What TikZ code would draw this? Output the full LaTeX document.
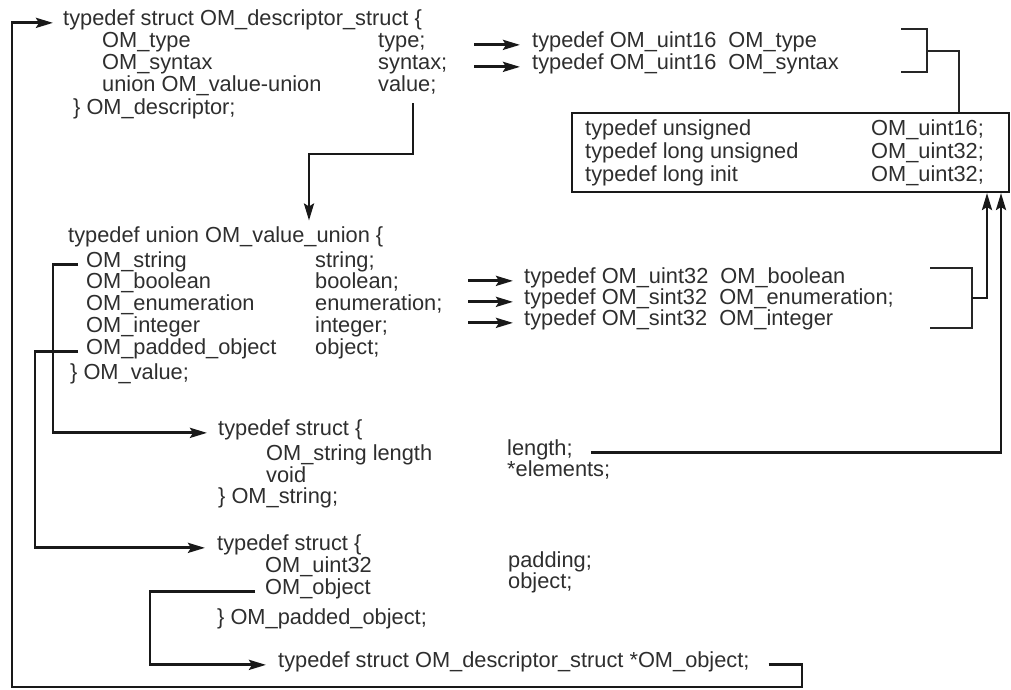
\documentclass[tikz,border=0pt]{standalone}
\usepackage{fontspec}
\setmainfont{Liberation Sans}
\usetikzlibrary{arrows.meta}

\begin{document}
\begin{tikzpicture}[x=1pt,y=-1pt,
  txt/.style={anchor=base west, inner sep=0pt, text=black!82,
              font=\fontsize{21.8}{21.8}\selectfont},
  conn/.style={line width=2.8pt, draw=black!90},
  arr/.style={conn, -{Stealth[length=17pt,width=10pt,inset=3pt]}},
  brk/.style={line width=1.3pt, draw=black!85},
  boxst/.style={draw=black!90, line width=2pt, inner sep=0pt, minimum width=437pt, minimum height=79pt}
]
\useasboundingbox (0,0) rectangle (1011,689);

% --- OM_descriptor_struct ---
\node[txt] (a0) at (63,25.5) {typedef struct OM\_descriptor\_struct \{};
\node[txt] (a1) at (102,47.5) {OM\_type};
\node[txt] (a1r) at (378,47.5) {type;};
\node[txt] (a2) at (102,69.5) {OM\_syntax};
\node[txt] (a2r) at (378,69.5) {syntax;};
\node[txt] (a3) at (102,91.5) {union OM\_value-union};
\node[txt] (a3r) at (378,91.5) {value;};
\node[txt] (a4) at (73,114) {\} OM\_descriptor;};

% --- 16-bit typedefs ---
\node[txt] (t1) at (532,47.5) {typedef OM\_uint16\ \ OM\_type};
\node[txt] (t2) at (532,69.5) {typedef OM\_uint16\ \ OM\_syntax};

% --- base types box ---
\node[boxst] (bx) at (790.5,152.5) {};
\node[txt] (x0) at (585,135.5) {typedef unsigned};
\node[txt] (x0r) at (871,135.5) {OM\_uint16;};
\node[txt] (x1) at (585,158.5) {typedef long unsigned};
\node[txt] (x1r) at (871,158.5) {OM\_uint32;};
\node[txt] (x2) at (585,181.5) {typedef long init};
\node[txt] (x2r) at (871,181.5) {OM\_uint32;};

% --- OM_value_union ---
\node[txt] (b0) at (68,242.5) {typedef union OM\_value\_union \{};
\node[txt] (b1) at (86,267.5) {OM\_string};
\node[txt] (b1r) at (315,267.5) {string;};
\node[txt] (b2) at (86,288.5) {OM\_boolean};
\node[txt] (b2r) at (315,288.5) {boolean;};
\node[txt] (b3) at (86,310.5) {OM\_enumeration};
\node[txt] (b3r) at (315,310.5) {enumeration;};
\node[txt] (b4) at (86,332.5) {OM\_integer};
\node[txt] (b4r) at (315,332.5) {integer;};
\node[txt] (b5) at (86,354.5) {OM\_padded\_object};
\node[txt] (b5r) at (315,354.5) {object;};
\node[txt] (b6) at (70,379.5) {\} OM\_value;};

% --- 32-bit typedefs ---
\node[txt] (r1) at (524,283.5) {typedef OM\_uint32\ \ OM\_boolean};
\node[txt] (r2) at (524,304.5) {typedef OM\_sint32\ \ OM\_enumeration;};
\node[txt] (r3) at (524,325.5) {typedef OM\_sint32\ \ OM\_integer};

% --- OM_string ---
\node[txt] (c0) at (218,435.5) {typedef struct \{};
\node[txt] (c1) at (266,460.5) {OM\_string length};
\node[txt] (c2) at (266,482.5) {void};
\node[txt] (c3) at (218,503.5) {\} OM\_string;};
\node[txt] (c1r) at (507,455.5) {length;};
\node[txt] (c2r) at (507,476.5) {*elements;};

% --- OM_padded_object ---
\node[txt] (d0) at (217,550.5) {typedef struct \{};
\node[txt] (d1) at (265,572.5) {OM\_uint32};
\node[txt] (d2) at (265,594.5) {OM\_object};
\node[txt] (d3) at (217,624.5) {\} OM\_padded\_object;};
\node[txt] (d1r) at (508,567.5) {padding;};
\node[txt] (d2r) at (508,588.5) {object;};
\node[txt] (d4) at (278,667.5) {typedef struct OM\_descriptor\_struct *OM\_object;};

% --- routing points ---
\coordinate (lpR) at (802,687);
\coordinate (lpL) at (12,687);
\coordinate (tx) at (474,0);
\coordinate (rx) at (468,0);
\coordinate (vA) at (413,103);
\coordinate (vB) at (309,154);
\coordinate (sx) at (53,0);
\coordinate (px) at (35,0);
\coordinate (ox) at (150,0);
\coordinate (k1a) at (901,29);
\coordinate (k1b) at (927,72);
\coordinate (k1c) at (901,72);
\coordinate (k1m) at (927,51);
\coordinate (k1x) at (959,0);
\coordinate (k2a) at (930,268);
\coordinate (k2b) at (972,328);
\coordinate (k2c) at (930,328);
\coordinate (k2m) at (972,298);
\coordinate (k2x) at (987,0);
\coordinate (lx) at (1001,0);

% the OM_object pointer loops back to the descriptor
\draw[arr, shorten >=10pt] ([xshift=19pt]d4.mid east) -| (lpR) -- (lpL) |- (a0.mid west);

% member types
\draw[arr, shorten >=12pt] (t1.mid west -| tx) -- (t1.mid west);
\draw[arr, shorten >=12pt] (t2.mid west -| tx) -- (t2.mid west);
\draw[arr, shorten >=6pt] (vA) |- (vB) -- (b0.north -| vB);

\draw[arr, shorten >=11pt] (r1.mid west -| rx) -- (r1.mid west);
\draw[arr, shorten >=11pt] (r2.mid west -| rx) -- (r2.mid west);
\draw[arr, shorten >=11pt] (r3.mid west -| rx) -- (r3.mid west);

\draw[arr, shorten >=11pt] ([xshift=-8pt]b1.mid west) -| (c0.mid west -| sx) -- (c0.mid west);
\draw[arr, shorten >=12pt] ([xshift=-8pt]b5.mid west) -| (d0.mid west -| px) -- (d0.mid west);
\draw[arr, shorten >=12pt] ([xshift=-10pt]d2.mid west) -| (d4.mid west -| ox) -- (d4.mid west);

% brackets grouping the typedefs
\draw[brk] (k1a) -| (k1b) -- (k1c);
\draw[brk] (k1m) -| (bx.north -| k1x);
\draw[brk] (k2a) -| (k2b) -- (k2c);
\draw[arr] (k2m) -| (bx.south -| k2x);
\draw[arr] ([xshift=18pt]c1r.mid east) -| (bx.south -| lx);
\end{tikzpicture}
\end{document}
